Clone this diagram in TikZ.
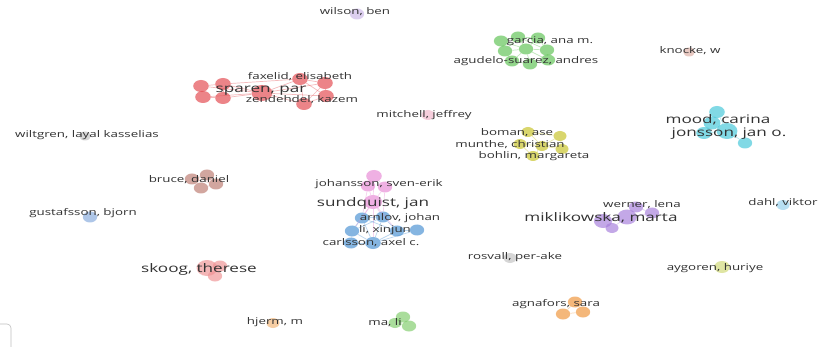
\documentclass[tikz,border=0pt]{standalone}
\usepackage{fontspec}
\usetikzlibrary{shapes.geometric}
\setmainfont[FakeStretch=1.45]{Open Sans}
\definecolor{txt}{RGB}{50,50,50}
\definecolor{cred}{RGB}{228,74,80}
\definecolor{cgreen}{RGB}{96,196,86}
\definecolor{ccyan}{RGB}{70,200,218}
\definecolor{cyel}{RGB}{200,196,40}
\definecolor{cpink}{RGB}{232,140,214}
\definecolor{cblue}{RGB}{76,146,212}
\definecolor{cpurp}{RGB}{168,128,220}
\definecolor{cbrown}{RGB}{190,124,114}
\definecolor{cskoog}{RGB}{240,148,150}
\definecolor{corange}{RGB}{240,150,60}
\definecolor{cmali}{RGB}{130,206,110}
\definecolor{cgrey}{RGB}{196,196,196}
\definecolor{cayg}{RGB}{208,218,120}
\definecolor{cknock}{RGB}{222,176,166}
\definecolor{cdahl}{RGB}{150,208,236}
\definecolor{cgust}{RGB}{136,172,222}
\definecolor{cwils}{RGB}{204,184,232}
\definecolor{cmitch}{RGB}{242,184,204}
\definecolor{chjerm}{RGB}{242,182,120}
\tikzset{
  dot/.style={ellipse, inner sep=0pt, fill=#1, fill opacity=0.68, draw=none},
  sz/.style={minimum width={1.3*#1}, minimum height={#1}},
  lab/.style={text=txt, inner sep=0pt, font=\fontsize{9.2}{10}\selectfont},
  big/.style={text=txt, inner sep=0pt, font=\fontsize{11.8}{13}\selectfont},
  edge/.style={draw=#1, draw opacity=0.38, line width=0.7pt},
}
\begin{document}
\begin{tikzpicture}[x=1pt,y=-1pt]
\useasboundingbox[fill=white] (0,0) rectangle (818,347);
% ---------------- red cluster
\node[dot=cred, sz=12] (r1) at (201,86) {};
\node[dot=cred, sz=12] (r2) at (223,84) {};
\node[dot=cred, sz=12] (r3) at (203,97) {};
\node[dot=cred, sz=12] (r4) at (223,98) {};
\node[dot=cred, sz=16] (r5) at (262,93) {};
\node[dot=cred, sz=12] (r6) at (300,79) {};
\node[dot=cred, sz=12] (r7) at (325,83) {};
\node[dot=cred, sz=12] (r8) at (326,96) {};
\node[dot=cred, sz=12] (r9) at (304,104) {};
\foreach \a/\b in {r1/r2,r1/r3,r2/r4,r3/r4,r1/r5,r2/r5,r3/r5,r4/r5,r5/r6,r5/r7,r5/r8,r5/r9,r6/r7,r6/r8,r7/r8,r8/r9,r6/r9,r7/r9,r2/r6}
  \draw[edge=cred] (\a) -- (\b);
\node[lab] at (300,77) {faxelid, elisabeth};
\node[big] at (261,91) {sparen, par};
\node[lab] at (302,100) {zendehdel, kazem};
% ---------------- green cluster
\node[dot=cgreen, sz=11] (g1) at (501,41) {};
\node[dot=cgreen, sz=11] (g2) at (518,37) {};
\node[dot=cgreen, sz=11] (g3) at (538,38) {};
\node[dot=cgreen, sz=11] (g4) at (505,51) {};
\node[dot=cgreen, sz=11] (g5) at (526,49) {};
\node[dot=cgreen, sz=11] (g6) at (547,50) {};
\node[dot=cgreen, sz=11] (g7) at (512,61) {};
\node[dot=cgreen, sz=11] (g8) at (530,64) {};
\node[dot=cgreen, sz=11] (g9) at (548,60) {};
\foreach \a/\b in {g1/g2,g2/g3,g1/g4,g2/g5,g3/g6,g4/g5,g5/g6,g4/g7,g5/g8,g6/g9,g7/g8,g8/g9,g1/g5,g3/g5,g7/g5,g9/g5,g2/g4,g2/g6}
  \draw[edge=cgreen] (\a) -- (\b);
\node[lab] at (550,41) {garcia, ana m.};
\node[lab] at (526,61) {agudelo-suarez, andres};
% ---------------- cyan cluster
\node[dot=ccyan, sz=12] (c1) at (717,112) {};
\node[dot=ccyan, sz=13] (c2) at (712,123) {};
\node[dot=ccyan, sz=12] (c3) at (704,133) {};
\node[dot=ccyan, sz=16] (c4) at (727,131) {};
\node[dot=ccyan, sz=11] (c5) at (745,143) {};
\foreach \a/\b in {c1/c2,c2/c3,c2/c4,c3/c4,c4/c5,c1/c4}
  \draw[edge=ccyan] (\a) -- (\b);
\node[big] at (718,120) {mood, carina};
\node[big] at (729,134) {jonsson, jan o.};
% ---------------- yellow cluster
\node[dot=cyel, sz=10] (y1) at (528,132) {};
\node[dot=cyel, sz=10] (y2) at (560,136) {};
\node[dot=cyel, sz=10] (y3) at (520,144) {};
\node[dot=cyel, sz=10] (y4) at (542,146) {};
\node[dot=cyel, sz=10] (y5) at (562,149) {};
\node[dot=cyel, sz=10] (y6) at (533,156) {};
\foreach \a/\b in {y1/y4,y2/y4,y3/y4,y5/y4,y6/y4,y1/y2,y3/y6,y2/y5}
  \draw[edge=cyel] (\a) -- (\b);
\node[lab] at (517,133) {boman, ase};
\node[lab] at (510,145) {munthe, christian};
\node[lab] at (534,156) {bohlin, margareta};
% ---------------- pink / blue cluster
\node[dot=cpink, sz=12] (p1) at (374,176) {};
\node[dot=cpink, sz=11] (p2) at (368,186) {};
\node[dot=cpink, sz=11] (p3) at (385,187) {};
\node[dot=cpink, sz=14] (p4) at (373,202) {};
\node[dot=cblue, sz=11] (b1) at (362,218) {};
\node[dot=cblue, sz=11] (b2) at (383,217) {};
\node[dot=cblue, sz=11] (b3) at (352,231) {};
\node[dot=cblue, sz=11] (b4) at (397,231) {};
\node[dot=cblue, sz=11] (b5) at (417,230) {};
\node[dot=cblue, sz=12] (b6) at (373,243) {};
\node[dot=cblue, sz=11] (b7) at (351,243) {};
\foreach \a/\b in {p1/p2,p1/p3,p2/p4,p3/p4,p1/p4,p4/b1,p4/b2,p4/b3,p4/b4,p4/b6,p2/b1,p3/b2}
  \draw[edge=cpink] (\a) -- (\b);
\foreach \a/\b in {b1/b2,b1/b3,b2/b4,b4/b5,b3/b6,b4/b6,b6/b7,b3/b7,b1/b6,b2/b6,b1/b4,b2/b3,b5/b6}
  \draw[edge=cblue] (\a) -- (\b);
\node[lab] at (379,184) {johansson, sven-erik};
\node[big] at (373,203) {sundquist, jan};
\node[lab] at (400,218) {arnlov, johan};
\node[lab] at (385,230) {li, xinjun};
\node[lab] at (371,243) {carlsson, axel c.};
% ---------------- purple cluster
\node[dot=cpurp, sz=14] (m1) at (603,221) {};
\node[dot=cpurp, sz=10] (m2) at (612,228) {};
\node[dot=cpurp, sz=15] (m3) at (627,217) {};
\node[dot=cpurp, sz=11] (m4) at (636,207) {};
\node[dot=cpurp, sz=11] (m5) at (652,213) {};
\foreach \a/\b in {m1/m3,m2/m3,m3/m4,m3/m5,m1/m2,m4/m5}
  \draw[edge=cpurp] (\a) -- (\b);
\node[lab] at (642,205) {werner, lena};
\node[big] at (601,218) {miklikowska, marta};
% ---------------- brown cluster
\node[dot=cbrown, sz=11] (d1) at (192,179) {};
\node[dot=cbrown, sz=11] (d2) at (207,175) {};
\node[dot=cbrown, sz=11] (d3) at (216,184) {};
\node[dot=cbrown, sz=11] (d4) at (201,188) {};
\foreach \a/\b in {d1/d2,d2/d3,d3/d4,d4/d1,d1/d3}
  \draw[edge=cbrown] (\a) -- (\b);
\node[lab] at (189,180) {bruce, daniel};
% ---------------- skoog
\node[dot=cskoog, sz=16] (s1) at (207,268) {};
\node[dot=cskoog, sz=11] (s2) at (220,266) {};
\node[dot=cskoog, sz=11] (s3) at (215,276) {};
\draw[edge=cskoog] (s1) -- (s2) (s1) -- (s3);
\node[big] at (199,269) {skoog, therese};
% ---------------- agnafors
\node[dot=corange, sz=11] (o1) at (575,302) {};
\node[dot=corange, sz=11] (o2) at (583,312) {};
\node[dot=corange, sz=11] (o3) at (563,314) {};
\draw[edge=corange] (o1) -- (o2) (o1) -- (o3) (o2) -- (o3);
\node[lab] at (556,304) {agnafors, sara};
% ---------------- ma, li
\node[dot=cmali, sz=11] (l1) at (403,317) {};
\node[dot=cmali, sz=10] (l2) at (395,323) {};
\node[dot=cmali, sz=11] (l3) at (409,326) {};
\draw[edge=cmali] (l1) -- (l2) (l1) -- (l3) (l2) -- (l3);
\node[lab] at (385,323) {ma, li};
% ---------------- singles
\node[dot=cwils, sz=11] (w1) at (357,14) {};
\node[lab] at (355,12) {wilson, ben};
\node[dot=cknock, sz=9] (k1) at (689,52) {};
\node[lab] at (690,51) {knocke, w};
\node[dot=cmitch, sz=10] (mi) at (428,115) {};
\node[lab] at (424,115) {mitchell, jeffrey};
\node[dot=cgrey, sz=9] (wi) at (85,136) {};
\node[lab] at (87,135) {wiltgren, layal kasselias};
\node[dot=cgust, sz=11] (gu) at (90,217) {};
\node[lab] at (83,213) {gustafsson, bjorn};
\node[dot=cdahl, sz=10] (da) at (783,205) {};
\node[lab] at (783,203) {dahl, viktor};
\node[dot=cgrey, sz=10] (rv) at (510,258) {};
\node[lab] at (515,257) {rosvall, per-ake};
\node[dot=cayg, sz=12] (ay) at (722,267) {};
\node[lab] at (715,268) {aygoren, huriye};
\node[dot=chjerm, sz=10] (hj) at (273,323) {};
\node[lab] at (275,322) {hjerm, m};
% ---------------- corner control
\draw[black!25, line width=0.6pt, rounded corners=4pt] (-6,324) rectangle (11,352);
\end{tikzpicture}
\end{document}
